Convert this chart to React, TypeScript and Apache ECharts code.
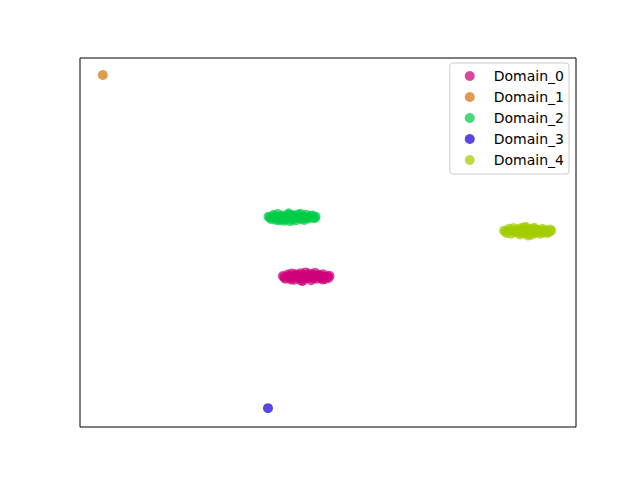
import React, { useEffect, useRef } from "react";
import * as echarts from "echarts";

const domainNames = ["Domain_0", "Domain_1", "Domain_2", "Domain_3", "Domain_4"];
const domainColors = ["#cf0078", "#d2740a", "#00cc48", "#1a00d6", "#a3cd00"];

const domain0: number[][] = [
  [40.9, 40.9], [41.4, 40.2], [41.9, 41.3], [42.3, 40.5], [42.7, 41.6], [43.2, 39.9], [43.6, 41.0],
  [44.1, 40.3], [44.5, 41.7], [44.9, 39.6], [45.3, 41.1], [45.8, 40.4], [46.2, 41.5], [46.6, 39.8],
  [47.0, 40.9], [47.4, 41.8], [47.8, 40.2], [48.2, 41.2], [48.6, 40.5], [49.0, 41.4], [49.4, 40.1],
  [49.9, 40.8], [50.3, 41.0], [45.5, 41.9], [44.6, 39.7],
  [41.2, 40.6], [42.0, 40.8], [42.9, 40.7], [43.8, 40.6], [44.3, 41.2], [45.0, 40.6], [45.9, 40.9],
  [46.4, 40.5], [47.1, 40.3], [47.9, 41.0], [48.5, 40.9], [49.2, 40.7], [43.4, 41.4], [46.9, 41.3],
  [48.9, 40.0], [42.5, 40.0], [50.1, 40.4],
];
const domain1: number[][] = [[4.6, 95.4]];
const domain2: number[][] = [
  [38.0, 57.0], [38.5, 56.4], [39.0, 57.5], [39.4, 56.2], [39.9, 57.7], [40.3, 56.6], [40.8, 57.3],
  [41.2, 55.9], [41.7, 57.0], [42.1, 57.9], [42.6, 56.3], [43.0, 57.4], [43.5, 56.0], [43.9, 57.6],
  [44.3, 56.7], [44.8, 57.2], [45.2, 56.1], [45.7, 57.5], [46.1, 56.5], [46.6, 57.1], [47.0, 56.8],
  [47.5, 57.0], [42.4, 55.8], [40.0, 56.0],
  [38.3, 56.8], [38.9, 56.9], [39.6, 57.0], [40.5, 57.0], [41.0, 56.7], [41.5, 56.4], [42.0, 56.9],
  [42.8, 57.1], [43.3, 56.6], [44.0, 56.9], [44.6, 56.4], [45.1, 57.0], [45.5, 56.8], [46.3, 56.9],
  [46.9, 57.3], [41.9, 57.5], [44.5, 57.8], [40.6, 56.2], [47.3, 56.6],
];
const domain3: number[][] = [[37.9, 5.1]];
const domain4: number[][] = [
  [85.5, 53.2], [86.0, 52.6], [86.5, 53.7], [86.9, 52.4], [87.4, 53.9], [87.8, 52.8], [88.3, 53.5],
  [88.7, 52.2], [89.2, 53.3], [89.6, 54.1], [90.1, 52.5], [90.5, 53.6], [91.0, 52.1], [91.4, 53.8],
  [91.9, 52.9], [92.3, 53.4], [92.8, 52.4], [93.2, 53.7], [93.7, 52.7], [94.1, 53.3], [94.6, 53.0],
  [95.0, 53.2], [89.9, 54.2], [90.3, 51.9],
  [85.8, 53.0], [86.3, 53.1], [87.1, 53.2], [87.6, 53.0], [88.0, 53.1], [88.5, 52.8], [89.0, 52.9],
  [89.4, 52.6], [90.0, 53.2], [90.8, 53.0], [91.2, 53.3], [91.7, 52.5], [92.1, 53.0], [92.6, 53.1],
  [93.0, 52.9], [93.5, 53.2], [94.3, 52.6], [94.8, 53.5], [88.9, 53.9], [91.6, 54.0],
];
const domainData = [domain0, domain1, domain2, domain3, domain4];

export default function App() {
  const ref = useRef<HTMLDivElement>(null);
  useEffect(() => {
    if (!ref.current) return;
    const chart = echarts.init(ref.current, null, { renderer: "svg" });
    chart.setOption({
      animation: false,
      backgroundColor: "#ffffff",
      textStyle: { fontFamily: "DejaVu Sans" },
      grid: {
        left: 80,
        top: 58,
        width: 496,
        height: 369,
        show: true,
        borderColor: "#000000",
        borderWidth: 1,
        backgroundColor: "transparent",
      },
      xAxis: {
        type: "value",
        min: 0,
        max: 100,
        show: false,
        splitLine: { show: false },
      },
      yAxis: {
        type: "value",
        min: 0,
        max: 100,
        show: false,
        splitLine: { show: false },
      },
      legend: {
        orient: "vertical",
        right: 71,
        top: 63,
        icon: "circle",
        itemWidth: 10,
        itemHeight: 10,
        itemGap: 7,
        padding: [6, 5, 7, 15],
        borderColor: "#cccccc",
        borderWidth: 1,
        borderRadius: 3,
        backgroundColor: "rgba(255,255,255,0.8)",
        textStyle: {
          fontFamily: "DejaVu Sans",
          fontSize: 14,
          color: "#000000",
          padding: [0, 0, 0, 14],
        },
        data: domainNames,
      },
      series: domainNames.map((name, i) => ({
        name,
        type: "scatter",
        data: domainData[i],
        symbol: "circle",
        symbolSize: 10,
        itemStyle: { color: domainColors[i], opacity: 0.72 },
        emphasis: { disabled: true },
      })),
    });
    return () => chart.dispose();
  }, []);
  return <div ref={ref} style={{ width: 640, height: 480, position: "absolute", left: 0, top: 0 }} />;
}
